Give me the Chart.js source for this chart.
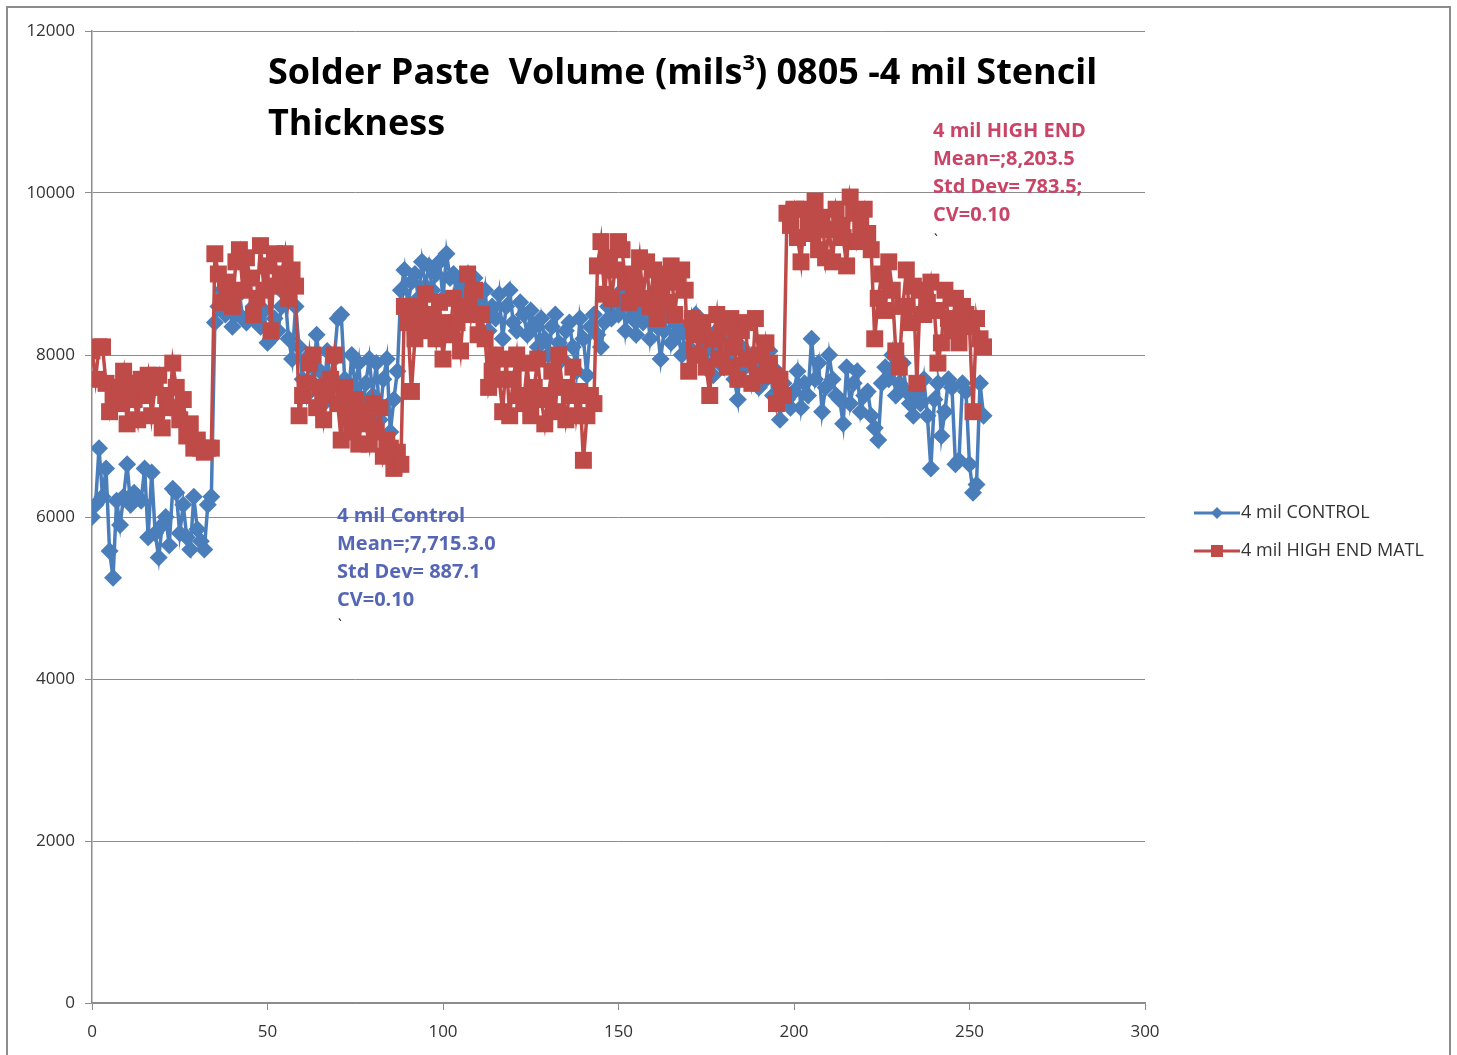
<!DOCTYPE html>
<html>
<head>
<meta charset="utf-8">
<script src="https://cdn.jsdelivr.net/npm/chart.js@4/dist/chart.umd.min.js"></script>
<style>
  html, body { margin: 0; padding: 0; background: #fff; }
  #wrap { width: 1457px; height: 1055px; }
</style>
</head>
<body>
<div id="wrap"><canvas id="chart" width="1457" height="1055"></canvas></div>
<script>
// 4 mil CONTROL, one value per sample
const control = [
  6000, 6150, 6850, 6250, 6600, 5580, 5250, 6200, 5900, 6250,
  6650, 6150, 6300, 6250, 6200, 6600, 5750, 6550, 5800, 5500,
  5900, 6000, 5650, 6350, 6300, 5800, 6150, 5750, 5600, 6250,
  5850, 5700, 5600, 6150, 6250,
  8400, 8600, 8800, 8500, 8650, 8350, 8500, 8750, 8450, 8400,
  8500, 8600, 8400, 8350, 8550, 8150, 8200, 8450, 8300, 8600,
  8750, 8200, 7950,
  8600, 8100, 7700, 7500, 8000, 7650, 8250, 7800, 7400, 8050,
  7600, 7950, 8450, 8500, 7700, 7450, 8000, 7600, 7900, 7300,
  7650, 7950, 7500, 7900, 7200, 7700, 7950, 7050, 7450, 7800,
  8800, 9050, 8600, 8900, 9000, 8700, 9150, 8850, 9100, 8800,
  9000, 9150, 8700, 9250, 8950, 9000, 8750, 8900, 8800, 9000,
  8600, 8950, 8700, 8500, 8800, 8300, 8600, 8450, 8750, 8200,
  8600, 8800, 8400, 8300, 8650, 8500, 8250, 8550, 8350, 8100,
  8450, 8200, 8000, 8350, 8500, 8150, 7950, 8300, 8400, 8100,
  7800, 8450,
  8200, 7750, 8350, 8500, 8250, 8100, 8400, 8600, 8450, 8700,
  8500, 8800, 8300, 8600, 8450, 8250, 8550, 8400, 8650, 8200,
  8500, 8350, 7950, 8300, 8600, 8150, 8400, 8250, 8000, 8350,
  8100, 8300, 8500, 8000, 8250, 7900, 8150, 7750, 8300, 8050,
  7850, 8200, 7950, 7700, 7450, 8100, 7850, 8000, 7650, 7900,
  7600, 7850, 7700, 8050, 7500, 7800, 7200, 7650, 7450, 7350,
  7550, 7800, 7350, 7650, 7500, 8200, 7700, 7900, 7300, 7600,
  8000, 7700, 7500, 7450, 7150, 7850, 7400, 7650, 7800, 7300,
  7500, 7550, 7250, 7100, 6950, 7650, 7850, 7700, 8000, 7500,
  7650, 7900, 7550, 7400, 7250, 7500, 7400, 7700, 7250, 6600,
  7450, 7650, 7000, 7300, 7700, 7600, 6650, 6700, 7650, 7550,
  6650, 6300, 6400, 7650, 7250
];

// 4 mil HIGH END MATL
const highEnd = [
  8050, 7700, 8100, 8100, 7650, 7300, 7500, 7400, 7600, 7800,
  7150, 7650, 7450, 7200, 7700, 7500, 7750, 7250, 7600, 7750,
  7100, 7500, 7350, 7900, 7600, 7200, 7450, 7000, 7150, 6850,
  6950, 6850, 6800, 6850, 6850,
  9250, 9000, 8650, 8900, 8750, 8600, 9150, 9300, 8800, 9200,
  8950, 8500, 8700, 9350, 8800, 9100, 8300, 9250, 8850, 9000,
  9250, 8700, 9050,
  8850, 7250, 7500, 7650, 7900, 8000, 7350, 7600, 7200, 7500,
  7700, 8000, 7400, 6950, 7600, 7250, 7050, 7450, 6900, 7300,
  7150, 6900, 7400, 7050, 7350, 6750, 6950, 6850, 6600, 6800,
  6650, 8600,
  8400, 7550, 8200, 8600, 8350, 8750, 8300, 8500, 8200, 8650,
  7950, 8400, 8250, 8700, 8400, 8050, 8600, 9000, 8500, 8800,
  8250, 8500, 8200, 7600, 7800, 8000, 7700, 7300, 7950, 7250,
  7700, 8000, 7500, 7400, 7900, 7250, 7600, 7950, 7450, 7150,
  7500, 7800, 7300, 8000, 7600, 7200, 7500, 7850, 7250, 7550,
  6700, 7250, 7500, 7400, 9100,
  9400, 8750, 9200, 8700, 9050,
  9400, 9300, 8900, 8650, 9000, 8850, 9200, 8700, 9150, 8600,
  9050, 8450, 8800, 9000, 8650, 9100, 8500, 8900, 9050, 8800,
  7800, 8450, 8250, 8000, 8400, 7850, 7500, 8200, 8500, 7950,
  8350, 7850, 8450, 8100, 7700, 8300, 8400, 7950, 7650, 8450,
  8000, 7750, 8150, 7900, 7750, 7400, 7700, 7500, 9750, 9600,
  9800, 9450, 9150, 9800, 9650, 9500, 9900, 9300, 9700, 9200,
  9550, 9150, 9800, 9600, 9450, 9100, 9950, 9750, 9400, 9600,
  9800, 9500, 9300, 8200, 8700, 9000, 8550, 9150, 8800, 8050,
  7850, 8600, 9050, 8400, 8850, 7650, 8800, 8500, 8650, 8900,
  8550, 7900, 8150, 8800, 8450, 8300, 8700, 8150, 8600, 8500,
  8350, 7300, 8450, 8200, 8100
];

const seriesNames = ['4 mil CONTROL', '4 mil HIGH END MATL'];
const titleLine1 = ['Solder Paste  Volume (mils', '3', ') 0805 -4 mil Stencil'];
const titleLine2 = 'Thickness';
const controlNote = ['4 mil Control', 'Mean=;7,715.3.0', 'Std Dev= 887.1', 'CV=0.10', '`'];
const highNote = ['4 mil HIGH END', 'Mean=;8,203.5', 'Std Dev= 783.5;', 'CV=0.10', '`'];

const blue = '#4a7ebb';
const red = '#be4b48';

function toPoints(arr) {
  return arr.map((v, i) => ({ x: i, y: v }));
}

const decor = {
  id: 'decor',
  afterDraw(chart) {
    const ctx = chart.ctx;
    ctx.save();
    // outer frame
    ctx.strokeStyle = '#8c8c8c';
    ctx.lineWidth = 2;
    ctx.strokeRect(7, 7, 1443, 1060);

    // title
    ctx.fillStyle = '#000';
    ctx.textBaseline = 'alphabetic';
    ctx.textAlign = 'left';
    let fs = 36;
    ctx.font = 'bold ' + fs + 'px "Open Sans"';
    const w = ctx.measureText(titleLine1[0]).width + ctx.measureText(titleLine1[2]).width +
      ctx.measureText(titleLine1[1]).width * 0.6;
    const sx = 829 / w;
    ctx.translate(268, 0);
    ctx.scale(sx, 1);
    let x = 0;
    ctx.fillText(titleLine1[0], x, 84);
    x += ctx.measureText(titleLine1[0]).width;
    ctx.font = 'bold ' + Math.round(fs * 0.6) + 'px "Open Sans"';
    ctx.fillText(titleLine1[1], x, 70);
    x += ctx.measureText(titleLine1[1]).width;
    ctx.font = 'bold ' + fs + 'px "Open Sans"';
    ctx.fillText(titleLine1[2], x, 84);
    ctx.fillText(titleLine2, 0, 135);
    ctx.setTransform(1, 0, 0, 1, 0, 0);

    // notes
    function note(lines, x0, y0, color) {
      lines.forEach((t, i) => {
        ctx.textBaseline = 'middle';
        if (i === lines.length - 1) {
          ctx.font = '14px "Open Sans"';
          ctx.fillStyle = '#000';
          ctx.fillText(t, x0 + 1, y0 + i * 28 - 2);
        } else {
          ctx.font = 'bold 20px "Open Sans"';
          ctx.fillStyle = color;
          ctx.fillText(t, x0, y0 + i * 28);
        }
      });
    }
    note(controlNote, 337, 516, '#5566b5');
    note(highNote, 933, 131, '#c94466');

    // legend
    const items = [
      { name: seriesNames[0], color: blue, y: 513, style: 'diamond' },
      { name: seriesNames[1], color: red, y: 551, style: 'square' }
    ];
    items.forEach(it => {
      ctx.strokeStyle = it.color;
      ctx.lineWidth = 3;
      ctx.beginPath();
      ctx.moveTo(1194, it.y);
      ctx.lineTo(1240, it.y);
      ctx.stroke();
      ctx.fillStyle = it.color;
      ctx.beginPath();
      if (it.style === 'diamond') {
        ctx.moveTo(1217, it.y - 6);
        ctx.lineTo(1223, it.y);
        ctx.lineTo(1217, it.y + 6);
        ctx.lineTo(1211, it.y);
      } else {
        ctx.rect(1211, it.y - 6, 12, 12);
      }
      ctx.fill();
      ctx.fillStyle = '#333';
      ctx.font = '18px "Open Sans"';
      ctx.textBaseline = 'middle';
      ctx.fillText(it.name, 1241, it.y);
    });
    ctx.restore();
  }
};

new Chart(document.getElementById('chart'), {
  type: 'line',
  data: {
    datasets: [
      {
        label: seriesNames[0],
        data: toPoints(control),
        borderColor: blue,
        backgroundColor: blue,
        borderWidth: 3.5,
        pointStyle: 'rectRot',
        pointRadius: 9,
        pointBorderWidth: 0,
        tension: 0,
        order: 2
      },
      {
        label: seriesNames[1],
        data: toPoints(highEnd),
        borderColor: red,
        backgroundColor: red,
        borderWidth: 3.5,
        pointStyle: 'rect',
        pointRadius: 12,
        pointBorderWidth: 0,
        tension: 0,
        order: 1
      }
    ]
  },
  options: {
    responsive: false,
    animation: false,
    layout: { padding: { left: 0, right: 312, top: 31, bottom: 0 } },
    plugins: { legend: { display: false }, tooltip: { enabled: false } },
    scales: {
      x: {
        type: 'linear',
        min: 0,
        max: 300,
        ticks: { stepSize: 50, color: '#333', font: { family: 'Open Sans', size: 17 }, padding: 12 },
        grid: { display: true, drawOnChartArea: false, drawTicks: true, tickLength: 7, color: '#8c8c8c' },
        border: { color: '#8c8c8c', width: 1.5 },
        afterFit(s) { s.height = 52; }
      },
      y: {
        min: 0,
        max: 12000,
        ticks: {
          stepSize: 2000, color: '#333', font: { family: 'Open Sans', size: 17 }, padding: 10,
          callback: v => String(v)
        },
        grid: { color: '#8c8c8c', lineWidth: 1, tickLength: 7 },
        border: { color: '#8c8c8c', width: 1.5 },
        afterFit(s) { s.width = 92; }
      }
    }
  },
  plugins: [decor]
});
</script>
</body>
</html>
